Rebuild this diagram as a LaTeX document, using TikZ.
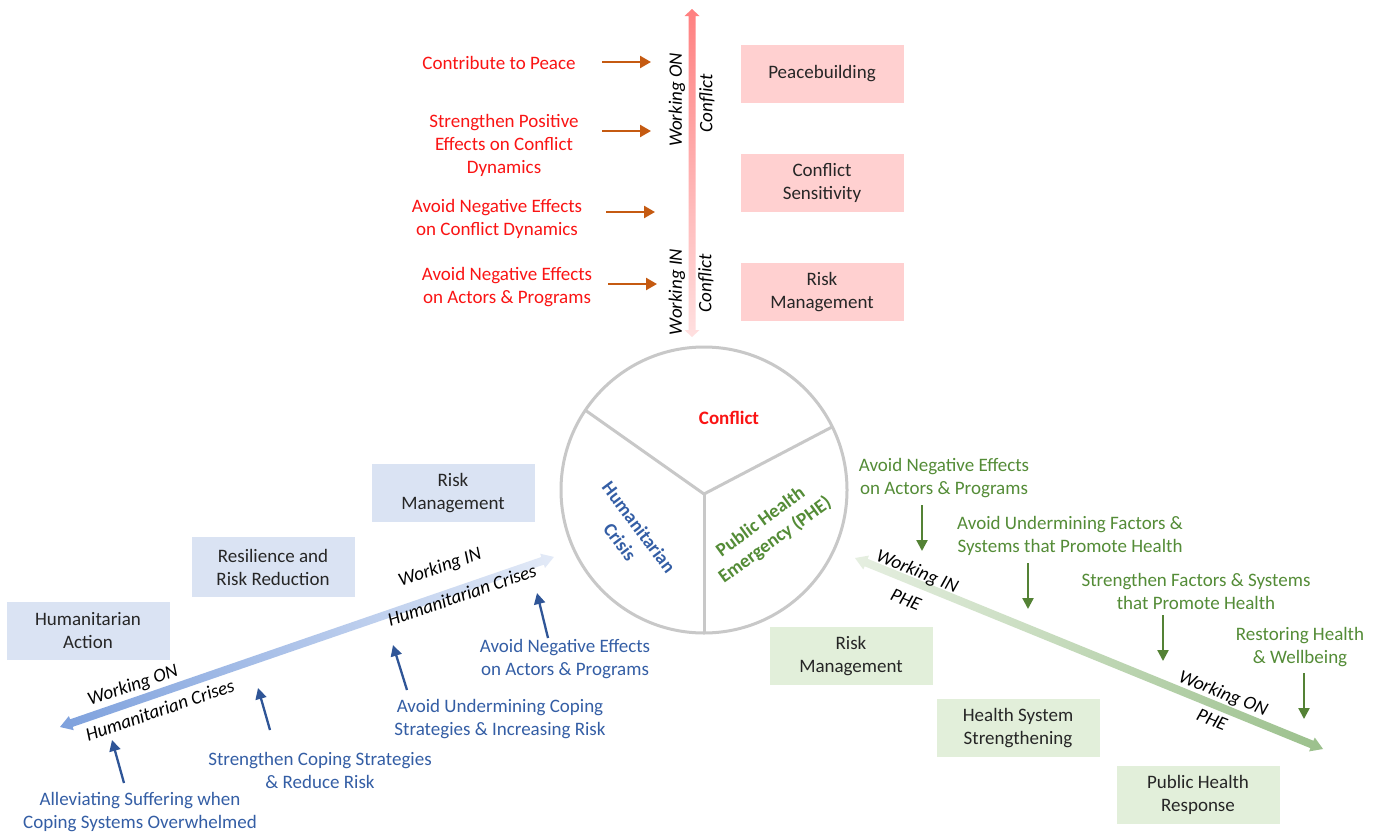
\documentclass[tikz,border=0pt]{standalone}
\usepackage{fontspec}
\setmainfont{Carlito}
\usetikzlibrary{arrows.meta}
\definecolor{pinkbox}{RGB}{255,208,208}
\definecolor{bluebox}{RGB}{218,227,243}
\definecolor{greenbox}{RGB}{226,239,218}
\definecolor{boxtext}{RGB}{38,38,38}
\definecolor{redtxt}{RGB}{250,20,20}
\definecolor{bluetxt}{RGB}{52,94,165}
\definecolor{bluearr}{RGB}{47,85,151}
\definecolor{greentxt}{RGB}{84,140,55}
\definecolor{greenarr}{RGB}{84,130,53}
\definecolor{orangearr}{RGB}{197,90,17}
\definecolor{circgray}{RGB}{200,200,200}
\definecolor{redA}{RGB}{255,128,128}
\definecolor{redB}{RGB}{255,224,224}
\definecolor{blueA}{RGB}{126,161,221}
\definecolor{blueB}{RGB}{227,234,247}
\definecolor{greenA}{RGB}{230,239,225}
\definecolor{greenB}{RGB}{155,192,140}
\newcommand{\gradarrow}[8]{% x,y start tip; angle; length; left color; right color; head len; half shaft
  \begin{scope}[transform canvas={shift={(#1,#2)}, rotate=#3}]
    \shade[left color=#5, right color=#6]
      (0,0) -- (#7,7.5) -- (#7,#8) -- (#4-#7,#8) -- (#4-#7,7.5) -- (#4,0)
      -- (#4-#7,-7.5) -- (#4-#7,-#8) -- (#7,-#8) -- (#7,-7.5) -- cycle;
  \end{scope}}
\begin{document}
\begin{tikzpicture}[x=1pt,y=-1pt,
  every node/.style={font=\fontsize{19}{23}\selectfont, align=center, inner sep=0pt},
  box/.style={minimum width=163pt, minimum height=58pt, text=boxtext},
  pbox/.style={box, fill=pinkbox},
  bbox/.style={box, fill=bluebox},
  gbox/.style={box, fill=greenbox},
  rtxt/.style={text=redtxt},
  btxt/.style={text=bluetxt},
  gtxt/.style={text=greentxt},
  axislbl/.style={font=\fontsize{19}{23}\selectfont\itshape, text=black},
  sector/.style={font=\fontsize{19}{23}\selectfont\bfseries},
  oarr/.style={draw=orangearr, line width=2.3pt, -{Triangle[length=11pt,width=12pt]}},
  barr/.style={draw=bluearr, line width=2.3pt, -{Triangle[length=11pt,width=11pt]}},
  garr/.style={draw=greenarr, line width=2.3pt, -{Triangle[length=11pt,width=11pt]}},
  divider/.style={draw=circgray, line width=3pt}
]
\useasboundingbox[fill=white] (0,0) rectangle (1383,835);

% ---------- gradient axes ----------
\gradarrow{692}{337}{90}{328}{redB}{redA}{7}{3.5}
\gradarrow{60}{727}{19.0}{522.4}{blueA}{blueB}{12}{4}
\gradarrow{855}{558}{-22.2}{505.5}{greenA}{greenB}{12}{4}

% ---------- circle ----------
\coordinate (cc) at (704,490);
\coordinate (jn) at (704,494);
\coordinate (d1) at (585,410);
\coordinate (d2) at (832,427);
\coordinate (d3) at (704,633);
\draw[divider] (cc) circle[radius=143pt];
\draw[divider] (jn) -- (d1);
\draw[divider] (jn) -- (d2);
\draw[divider] (jn) -- (d3);
\node[sector, text=redtxt] (cConf) at (729,418) {Conflict};
\node[sector, text=bluetxt, rotate=-53] (cHum1) at (639,527) {Humanitarian};
\node[sector, text=bluetxt, rotate=-53] (cHum2) at (620,542) {Crisis};
\node[sector, text=greentxt, rotate=36] (cPHE1) at (760,521) {Public Health};
\node[sector, text=greentxt, rotate=36] (cPHE2) at (775,540) {Emergency (PHE)};

% ---------- conflict section ----------
\node[pbox] (pb) at (822,74) {Peacebuilding};
\node[pbox] (cs) at (822,183) {Conflict\\Sensitivity};
\node[pbox] (rmC) at (822,292) {Risk\\Management};

\node[axislbl, rotate=90] (wonC) at (677,100) {Working ON};
\node[axislbl, rotate=90] (conC1) at (707,103) {Conflict};
\node[axislbl, rotate=90] (winC) at (677,292) {Working IN};
\node[axislbl, rotate=90] (conC2) at (706,283) {Conflict};

\node[rtxt] (r1) at (499,63) {Contribute to Peace};
\node[rtxt] (r2) at (504,145) {Strengthen Positive\\Effects on Conflict\\Dynamics};
\node[rtxt] (r3) at (497,219) {Avoid Negative Effects\\on Conflict Dynamics};
\node[rtxt] (r4) at (507,287) {Avoid Negative Effects\\on Actors \& Programs};

\coordinate (ra1) at (602,62);  \coordinate (rb1) at (651,62);
\coordinate (ra2) at (602,131); \coordinate (rb2) at (651,131);
\coordinate (ra3) at (606,212); \coordinate (rb3) at (655,212);
\coordinate (ra4) at (608,284); \coordinate (rb4) at (657,284);
\draw[oarr] (ra1) -- (rb1);
\draw[oarr] (ra2) -- (rb2);
\draw[oarr] (ra3) -- (rb3);
\draw[oarr] (ra4) -- (rb4);

% ---------- humanitarian section ----------
\node[bbox] (ha) at (88,631) {Humanitarian\\Action};
\node[bbox, minimum height=60pt] (rr) at (273,567) {Resilience and\\Risk Reduction};
\node[bbox] (rmH) at (453,493) {Risk\\Management};

\node[axislbl, rotate=19] (wonH) at (133,686) {Working ON};
\node[axislbl, rotate=19] (hcH1) at (160,710) {Humanitarian Crises};
\node[axislbl, rotate=19] (winH) at (440,568) {Working IN};
\node[axislbl, rotate=19] (hcH2) at (462,595) {Humanitarian Crises};

\node[btxt] (b1) at (140,812) {Alleviating Suffering when\\Coping Systems Overwhelmed};
\node[btxt] (b2) at (320,770) {Strengthen Coping Strategies\\\& Reduce Risk};
\node[btxt] (b3) at (500,719) {Avoid Undermining Coping\\Strategies \& Increasing Risk};
\node[btxt] (b4) at (565,659) {Avoid Negative Effects\\on Actors \& Programs};

\coordinate (ba1) at (124,783); \coordinate (bb1) at (112,740);
\coordinate (ba2) at (270,730); \coordinate (bb2) at (258,688);
\coordinate (ba3) at (407,690); \coordinate (bb3) at (393,645);
\coordinate (ba4) at (548,638); \coordinate (bb4) at (537,593);
\draw[barr] (ba1) -- (bb1);
\draw[barr] (ba2) -- (bb2);
\draw[barr] (ba3) -- (bb3);
\draw[barr] (ba4) -- (bb4);

% ---------- PHE section ----------
\node[gbox] (rmP) at (851,656) {Risk\\Management};
\node[gbox] (hss) at (1018,728) {Health System\\Strengthening};
\node[gbox] (phr) at (1198,795) {Public Health\\Response};

\node[axislbl, rotate=-22] (winP) at (917,572) {Working IN};
\node[axislbl, rotate=-22] (pheP1) at (906,600) {PHE};
\node[axislbl, rotate=-22] (wonP) at (1223,694) {Working ON};
\node[axislbl, rotate=-22] (pheP2) at (1212,720) {PHE};

\node[gtxt] (g1) at (944,478) {Avoid Negative Effects\\on Actors \& Programs};
\node[gtxt] (g2) at (1070,536) {Avoid Undermining Factors \&\\Systems that Promote Health};
\node[gtxt] (g3) at (1196,591) {Strengthen Factors \& Systems\\that Promote Health};
\node[gtxt] (g4) at (1300,647) {Restoring Health\\\& Wellbeing};

\coordinate (ga1) at (922,505);  \coordinate (gb1) at (922,551);
\coordinate (ga2) at (1028,563); \coordinate (gb2) at (1028,609);
\coordinate (ga3) at (1163,615); \coordinate (gb3) at (1163,661);
\coordinate (ga4) at (1304,673); \coordinate (gb4) at (1304,719);
\draw[garr] (ga1) -- (gb1);
\draw[garr] (ga2) -- (gb2);
\draw[garr] (ga3) -- (gb3);
\draw[garr] (ga4) -- (gb4);
\end{tikzpicture}
\end{document}
